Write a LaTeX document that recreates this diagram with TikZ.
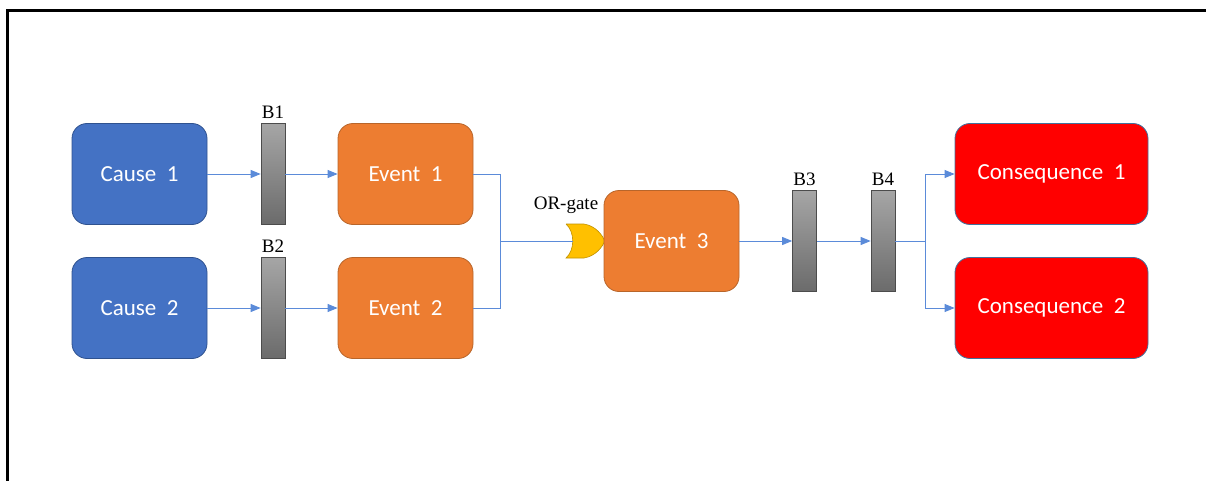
\documentclass[tikz,border=0pt]{standalone}
\usepackage{fontspec}
\setmainfont{Liberation Serif}
\newfontfamily\boxfont{Carlito}
\usetikzlibrary{arrows.meta}
\definecolor{causeblue}{HTML}{4472C4}
\definecolor{causeedge}{HTML}{2F528F}
\definecolor{eventorange}{HTML}{ED7D31}
\definecolor{eventedge}{HTML}{B8652A}
\definecolor{consred}{HTML}{FF0000}
\definecolor{consedge}{HTML}{41719C}
\definecolor{linkblue}{HTML}{5B8BD9}
\definecolor{gatefill}{HTML}{FFC000}
\definecolor{gateedge}{HTML}{BF9000}
\tikzset{
  box/.style={rounded corners=15pt, minimum width=135pt, minimum height=101pt,
    inner sep=0pt, text=white, font=\boxfont\fontsize{23}{27}\selectfont, line width=0.8pt},
  causebox/.style={box, fill=causeblue, draw=causeedge},
  eventbox/.style={box, fill=eventorange, draw=eventedge},
  consbox/.style={box, fill=consred, draw=consedge, minimum width=193pt},
  barrier/.style={minimum width=24pt, minimum height=101pt, inner sep=0pt,
    top color=black!35, bottom color=black!58, draw=black!70, line width=0.7pt},
  blabel/.style={font=\fontsize{19}{21}\selectfont, inner sep=0pt},
  link/.style={draw=linkblue, line width=0.9pt},
  arr/.style={link, -{Triangle[length=10pt,width=8pt]}},
}
\begin{document}
\begin{tikzpicture}[x=1pt, y=-1pt]
\useasboundingbox (0,0) rectangle (1206,481);
% frame
\draw[line width=2.4pt] (7.5,481) -- (7.5,10.5) -- (1206,10.5);

% causes, barriers and events
\node[causebox] (c1) at (139.5,174) {Cause\ \ 1};
\node[causebox] (c2) at (139.5,308) {Cause\ \ 2};
\node[barrier] (b1) at (273,174) {};
\node[barrier] (b2) at (273,308) {};
\node[blabel, anchor=south] (lb1) at (273,119) {B1};
\node[blabel, anchor=south] (lb2) at (273,253) {B2};
\node[eventbox] (e1) at (405.5,174) {Event\ \ 1};
\node[eventbox] (e2) at (405.5,308) {Event\ \ 2};

% OR gate
\filldraw[fill=gatefill, draw=gateedge, line width=0.6pt]
  (566,224) -- (584,224) .. controls (596,226) and (602,235) .. (605,241)
  .. controls (602,247) and (596,256) .. (584,258) -- (566,258)
  .. controls (575,250) and (575,232) .. (566,224);
\coordinate (gin) at (573,241);
\node[blabel, anchor=south] (lgate) at (566,214) {OR-gate};

% top event and downstream barriers
\node[eventbox] (e3) at (671.5,241) {Event\ \ 3};
\node[barrier] (b3) at (804.5,241) {};
\node[barrier] (b4) at (883,241) {};
\node[blabel, anchor=south] (lb3) at (804.5,186) {B3};
\node[blabel, anchor=south] (lb4) at (883,186) {B4};
\node[consbox] (q1) at (1051.5,174) {Consequence\ \ 1};
\node[consbox] (q2) at (1051.5,308) {Consequence\ \ 2};

% connectors
\draw[arr] (c1.east) -- (b1.west);
\draw[arr] (b1.east) -- (e1.west);
\draw[arr] (c2.east) -- (b2.west);
\draw[arr] (b2.east) -- (e2.west);
\coordinate (j1) at (500,241);
\draw[link] (e1.east) -| (j1) -- (gin);
\draw[link] (e2.east) -| (j1);
\draw[arr] (e3.east) -- (b3.west);
\draw[arr] (b3.east) -- (b4.west);
\coordinate (j2) at (925,241);
\draw[link] (b4.east) -- (j2);
\draw[arr] (j2) |- (q1.west);
\draw[arr] (j2) |- (q2.west);
\end{tikzpicture}
\end{document}
